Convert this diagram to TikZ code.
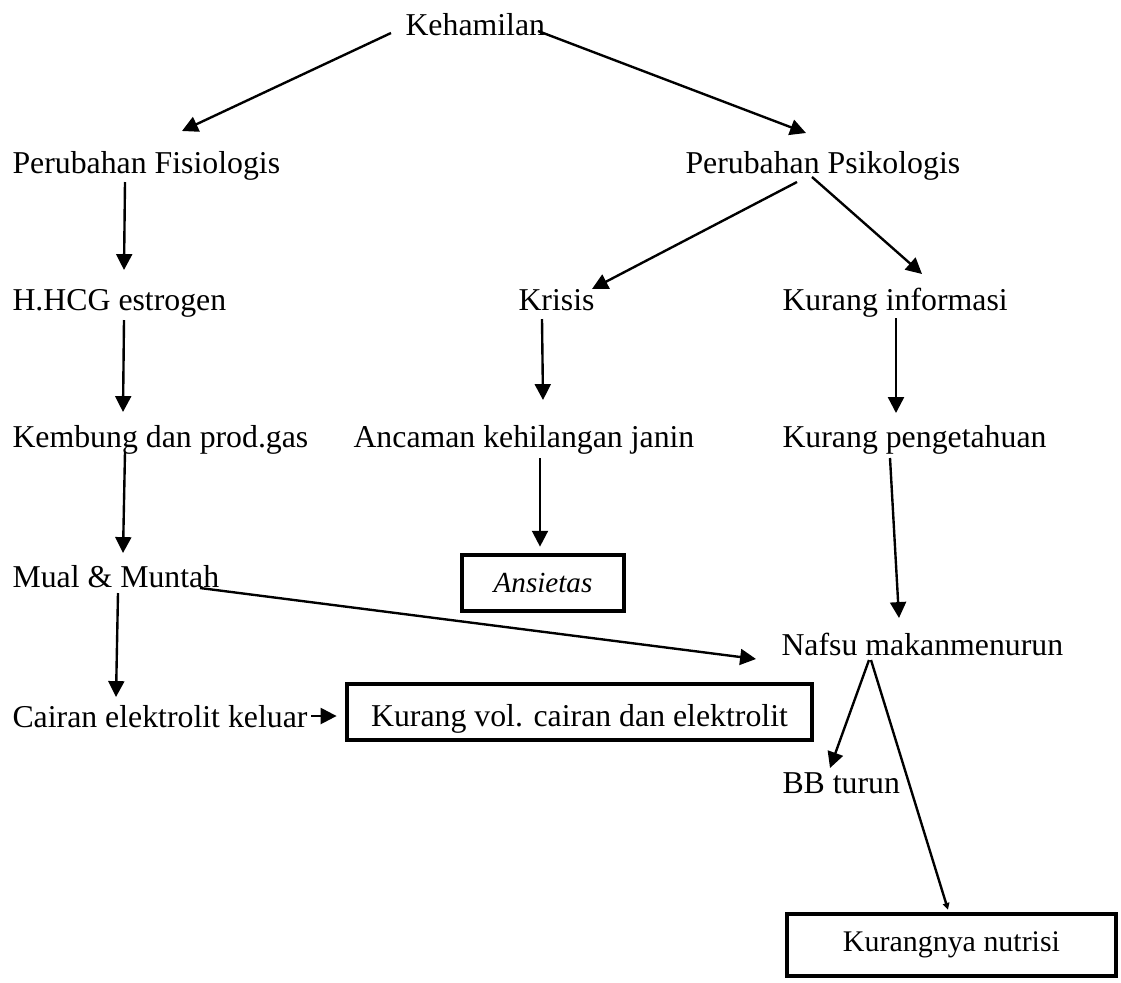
\documentclass[tikz,border=0pt]{standalone}
\usepackage{fontspec}
\setmainfont{Liberation Serif}
\usetikzlibrary{arrows.meta,positioning,calc}

\begin{document}
\begin{tikzpicture}[x=0.3774pt, y=-0.3774pt,
    lbl/.style={anchor=base west, inner sep=0pt, font=\fontsize{12}{14}\selectfont},
    diagbox/.style={draw, rectangle, line width=1.8pt, inner sep=0pt, fill=white},
    arr/.style={line width=0.9pt, -{Triangle[length=6pt,width=6pt]}}]
				\useasboundingbox (0,0) rectangle (1121,982);
				
				% Top of the tree
				\node[lbl] (keh) at (405,35) {Kehamilan};
				\node[lbl] (fis) at (12,173) {Perubahan Fisiologis};
				\node[lbl] (psi) at (685,173) {Perubahan Psikologis};
				
				% Middle rows
				\node[lbl] (hcg) at (12,310) {H.HCG estrogen};
				\node[lbl] (kri) at (518,310) {Krisis};
				\node[lbl] (kinf) at (782,310) {Kurang informasi};
				\node[lbl] (kem) at (12,447) {Kembung dan prod.gas};
				\node[lbl] (anc) at (353,447) {Ancaman kehilangan janin};
				\node[lbl] (kpe) at (782,447) {Kurang pengetahuan};
				\node[lbl] (mual) at (12,587) {Mual \& Muntah};
				\node[lbl] (naf) at (781,655) {Nafsu makanmenurun};
				\node[lbl] (cair) at (12,727) {Cairan elektrolit keluar};
				\node[lbl] (bb) at (782,793) {BB turun};
				
				% Diagnosis boxes
				\node[diagbox, minimum width=61.1pt, minimum height=21.1pt, font=\fontsize{11}{13}\selectfont\itshape] (ans) at (543,583) {Ansietas};
				\node[diagbox, minimum width=175.5pt, minimum height=21.1pt, text height=11.3pt, text depth=0pt, font=\fontsize{12}{14}\selectfont] (kvol) at (579.5,712) {Kurang vol. cairan dan elektrolit};
				\node[diagbox, minimum width=124.2pt, minimum height=23.4pt, font=\fontsize{11.3}{13}\selectfont] (nut) at (951.5,945) {Kurangnya nutrisi};
				
				% Connections
				\draw[arr] ([shift={(-14,-2)}]keh.base west) -- ([shift={(170,-42)}]fis.base west);
				\draw[arr] ([shift={(133,-4)}]keh.base west) -- ([shift={(121,-40)}]psi.base west);
				\draw[arr] ([shift={(113,9)}]fis.base west) -- ([shift={(112,-40)}]hcg.base west);
				\draw[arr] ([shift={(112,10)}]hcg.base west) -- ([shift={(111,-35)}]kem.base west);
				\draw[arr] ([shift={(112,9)}]psi.base west) -- ([shift={(74,-21)}]kri.base west);
				\draw[arr] ([shift={(127,4)}]psi.base west) -- ([shift={(140,-36)}]kinf.base west);
				\draw[arr] ([shift={(24,9)}]kri.base west) -- ([shift={(190,-47)}]anc.base west);
				\draw[arr] ([shift={(114,8)}]kinf.base west) -- ([shift={(114,-34)}]kpe.base west);
				\draw[arr] ([shift={(113,5)}]kem.base west) -- ([shift={(111,-34)}]mual.base west);
				\draw[arr] ([shift={(187,11)}]anc.base west) -- ([shift={(-3,-6)}]ans.north);
				\draw[arr] ([shift={(108,11)}]kpe.base west) -- ([shift={(118,-37)}]naf.base west);
				\draw[arr] ([shift={(188,1)}]mual.base west) -- ([shift={(-25,4)}]naf.base west);
				\draw[arr] ([shift={(106,6)}]mual.base west) -- ([shift={(104,-30)}]cair.base west);
				\draw[arr] ([shift={(299,-11)}]cair.base west) -- ([shift={(-8,4)}]kvol.west);
				\draw[arr] ([shift={(88,5)}]naf.base west) -- ([shift={(48,-25)}]bb.base west);
				\draw[line width=0.9pt, -{Triangle[length=2.5pt,width=2.5pt]}] ([shift={(90,5)}]naf.base west) -- ([shift={(-3.5,-2)}]nut.north);
			\end{tikzpicture}
\end{document}
